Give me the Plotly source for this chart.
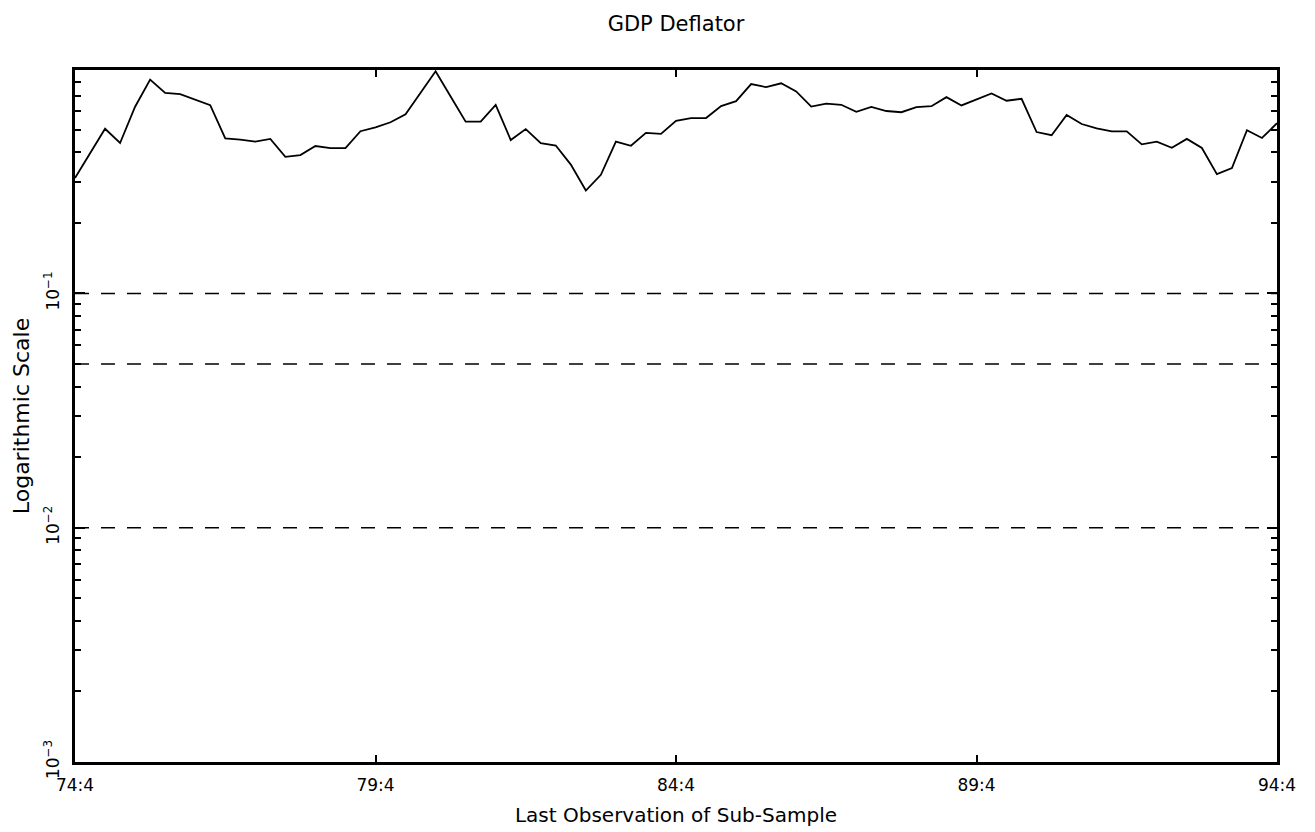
import plotly.graph_objects as go

# Quarterly sub-sample end points, 74:4 .. 94:4 (81 observations)
quarter_index = list(range(81))
deflator_values = [
    0.311, 0.394, 0.505, 0.439, 0.627, 0.818, 0.718, 0.710, 0.675, 0.637,
    0.459, 0.454, 0.445, 0.457, 0.383, 0.390, 0.426, 0.417, 0.417, 0.493,
    0.512, 0.538, 0.582, 0.715, 0.888, 0.693, 0.541, 0.541, 0.639, 0.452,
    0.503, 0.438, 0.428, 0.355, 0.275, 0.321, 0.445, 0.427, 0.485, 0.480,
    0.546, 0.561, 0.561, 0.631, 0.662, 0.783, 0.760, 0.789, 0.729, 0.628,
    0.646, 0.639, 0.596, 0.626, 0.601, 0.594, 0.624, 0.630, 0.689, 0.635,
    0.673, 0.714, 0.665, 0.678, 0.489, 0.474, 0.578, 0.529, 0.507, 0.492,
    0.492, 0.433, 0.445, 0.419, 0.457, 0.418, 0.323, 0.343, 0.498, 0.461,
    0.533,
]
critical_values = [0.10, 0.05, 0.01]

x_tick_vals = [0, 20, 40, 60, 80]
x_tick_text = ["74:4", "79:4", "84:4", "89:4", "94:4"]
y_tick_vals = [0.001, 0.01, 0.1]
y_tick_text = ["10<sup>−3</sup>", "10<sup>−2</sup>", "10<sup>−1</sup>"]
y_minor_vals = [m * d for d in (0.001, 0.01, 0.1) for m in range(2, 10)]

FONT = "DejaVu Sans"

fig = go.Figure()
for cv in critical_values:
    fig.add_trace(go.Scatter(
        x=[quarter_index[0], quarter_index[-1]], y=[cv, cv],
        mode="lines", line=dict(color="black", width=1.6, dash="14px,12px"),
        showlegend=False, hoverinfo="skip",
    ))
fig.add_trace(go.Scatter(
    x=quarter_index, y=deflator_values, mode="lines",
    line=dict(color="black", width=1.8), showlegend=False,
))

fig.update_layout(
    width=1315, height=832,
    paper_bgcolor="white", plot_bgcolor="white",
    margin=dict(l=60, r=46, t=62, b=78),
    font=dict(family=FONT, color="black", size=18),
    title=dict(text="GDP Deflator", x=0.5, xref="paper", y=0.99, yanchor="top",
               font=dict(family=FONT, size=21, color="black")),
)
fig.update_xaxes(
    range=[quarter_index[0], quarter_index[-1]],
    tickvals=x_tick_vals, ticktext=x_tick_text,
    ticks="inside", ticklen=7, tickwidth=1.5, tickcolor="black",
    showline=True, linewidth=3, linecolor="black", mirror="allticks",
    showgrid=False, zeroline=False, ticklabelstandoff=6,
    tickfont=dict(size=17),
    title=dict(text="Last Observation of Sub-Sample", standoff=14,
               font=dict(size=20)),
)
fig.update_yaxes(
    type="log", range=[-3, -0.046],
    tickvals=y_tick_vals, ticktext=y_tick_text, tickangle=-90,
    ticks="inside", ticklen=10, tickwidth=1.5, tickcolor="black",
    minor=dict(tickvals=y_minor_vals, ticks="inside", ticklen=6,
               tickwidth=1.5, tickcolor="black", showgrid=False),
    showline=True, linewidth=3, linecolor="black", mirror="allticks",
    showgrid=False, zeroline=False, ticklabelstandoff=6,
    tickfont=dict(size=17),
    title=dict(text="Logarithmic Scale", standoff=6, font=dict(size=22)),
)

fig.write_html("out.html")
